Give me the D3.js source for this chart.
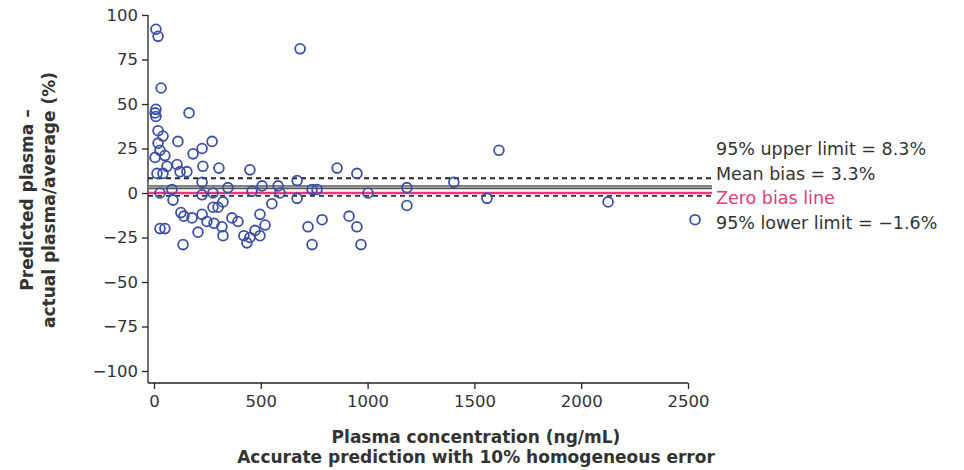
<!DOCTYPE html>
<html>
<head>
<meta charset="utf-8">
<script src="https://cdn.jsdelivr.net/npm/d3@7"></script>
<style>
  body { margin: 0; background: #fff; }
  svg text { font-family: "DejaVu Sans", "Liberation Sans", sans-serif; }
</style>
</head>
<body>
<svg id="chart" width="964" height="470"></svg>
<script>
// concentration (ng/mL) and bias (%) of each sample
const conc = [9, 19, 33, 9, 5, 9, 19, 42, 19, 28, 51, 5, 14, 42, 61, 28, 28, 51, 84, 89,
    112, 108, 122, 154, 164, 183, 225, 272, 229, 304, 225, 225, 276, 126, 140, 178, 225, 248, 276, 300,
    281, 318, 206, 136, 323, 346, 323, 365, 393, 421, 435, 449, 459, 449, 473, 496, 496, 520, 506, 552,
    581, 590, 670, 670, 684, 740, 763, 721, 787, 740, 857, 913, 950, 950, 969, 1002, 1184, 1184, 1404, 1559,
    1615, 2126, 2533];
const bias = [92, 88, 59, 47, 45, 43, 35, 32, 28, 24, 21, 20, 11, 11, 15, 0, -20, -20, 2, -4,
    29, 16, 12, 12, 45, 22, 25, 29, 15, 14, 6, -1, 0, -11, -13, -14, -12, -16, -8, -8,
    -17, -19, -22, -29, -24, 3, -5, -14, -16, -24, -28, 13, 1, -25, -21, -24, -12, -18, 4, -6,
    4, 0, 7, -3, 81, 2, 2, -19, -15, -29, 14, -13, 11, -19, -29, 0, 3, -7, 6, -3,
    24, -5, -15];

const xTicks = [0, 500, 1000, 1500, 2000, 2500];
const yTicks = [-100, -75, -50, -25, 0, 25, 50, 75, 100];

const upperLimit = 8.3, meanBias = 3.3, zeroBias = 0, lowerLimit = -1.6;
const legendLabels = ["95% upper limit = 8.3%", "Mean bias = 3.3%", "Zero bias line", "95% lower limit = \u22121.6%"];

const svg = d3.select("#chart");

const x = d3.scaleLinear().domain([0, 2500]).range([154, 688]);
const y = d3.scaleLinear().domain([-100, 100]).range([371, 15]);

const axisX = x(0) - 6;      // y axis sits slightly left of zero
const axisY = y(-100) + 12;  // x axis sits slightly below -100
const ink = "#333";

// y axis
const yAxis = svg.append("g")
    .attr("transform", `translate(${axisX},0)`)
    .call(d3.axisLeft(y).tickValues(yTicks).tickSize(6).tickSizeOuter(0)
        .tickFormat(d => d < 0 ? "\u2212" + Math.abs(d) : String(d)));
yAxis.select(".domain").remove();
yAxis.selectAll("line").attr("stroke", "#222").attr("stroke-width", 1.3);
yAxis.selectAll("text").attr("font-size", 16.5).attr("fill", ink).attr("x", -10);
svg.append("line")
    .attr("x1", axisX).attr("x2", axisX)
    .attr("y1", y(100)).attr("y2", axisY)
    .attr("stroke", "#222").attr("stroke-width", 1.3);

// x axis
const xAxis = svg.append("g")
    .attr("transform", `translate(0,${axisY})`)
    .call(d3.axisBottom(x).tickValues(xTicks).tickSize(6).tickSizeOuter(0).tickFormat(d3.format("d")));
xAxis.select(".domain").remove();
xAxis.selectAll("line").attr("stroke", "#222").attr("stroke-width", 1.3);
xAxis.selectAll("text").attr("font-size", 16.5).attr("fill", ink).attr("y", 12);
svg.append("line")
    .attr("x1", axisX).attr("x2", x(2500))
    .attr("y1", axisY).attr("y2", axisY)
    .attr("stroke", "#222").attr("stroke-width", 1.3);

// reference lines
const lineEnd = 712;
function hline(v, color, width, dash) {
    svg.append("line")
        .attr("x1", axisX).attr("x2", lineEnd)
        .attr("y1", y(v)).attr("y2", y(v))
        .attr("stroke", color).attr("stroke-width", width)
        .attr("stroke-dasharray", dash || null);
}
hline(upperLimit, "#222", 1.8, "5,4");
hline(meanBias, "#555", 4);
hline(meanBias, "#bbb", 1.4);
hline(zeroBias, "#e23c7c", 2.6);
hline(lowerLimit, "#333", 1.8, "5,4");

// points
const points = conc.map((c, i) => ({ c: c, b: bias[i] }));
svg.append("g").selectAll("circle")
    .data(points)
    .join("circle")
    .attr("cx", d => x(d.c))
    .attr("cy", d => y(d.b))
    .attr("r", 4.9)
    .attr("fill", "none")
    .attr("stroke", "#3d4fa6")
    .attr("stroke-width", 1.8);

// legend text
svg.append("g").selectAll("text")
    .data(legendLabels)
    .join("text")
    .attr("x", 716)
    .attr("y", (d, i) => 155 + i * 24.7)
    .attr("font-size", 17.5)
    .attr("fill", (d, i) => i === 2 ? "#e23c7c" : ink)
    .text(d => d);

// axis titles
const yTitle = ["Predicted plasma \u2013", "actual plasma/average (%)"];
svg.append("g").selectAll("text")
    .data(yTitle)
    .join("text")
    .attr("transform", (d, i) => `translate(${33 + i * 22},200) rotate(-90)`)
    .attr("text-anchor", "middle")
    .attr("font-size", 17).attr("font-weight", "bold").attr("fill", ink)
    .text(d => d);

const xTitle = ["Plasma concentration (ng/mL)", "Accurate prediction with 10% homogeneous error"];
svg.append("g").selectAll("text")
    .data(xTitle)
    .join("text")
    .attr("x", 476)
    .attr("y", (d, i) => 443 + i * 20)
    .attr("text-anchor", "middle")
    .attr("font-size", 17).attr("font-weight", "bold").attr("fill", ink)
    .text(d => d);
</script>
</body>
</html>
